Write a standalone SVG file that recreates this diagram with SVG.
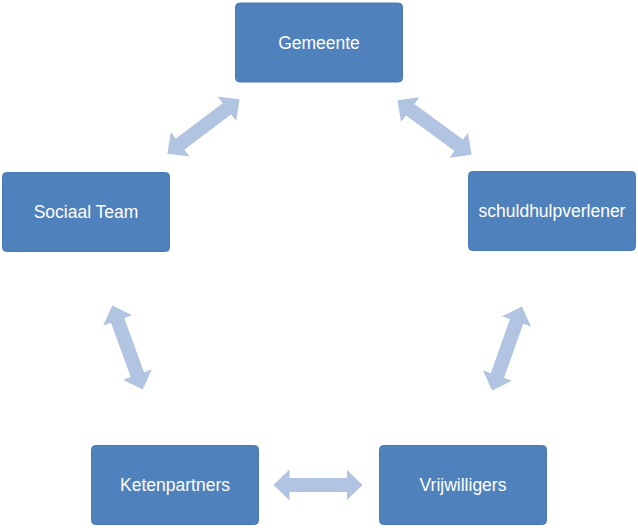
<svg xmlns="http://www.w3.org/2000/svg" width="638" height="528" viewBox="0 0 638 528">
<style>
.box{fill:#4F81BD;stroke:#4A7AB5;stroke-width:1}
.lbl{fill:#FFFFFF;font-family:"Liberation Sans",Arial,sans-serif;font-size:17.5px;text-anchor:middle}
.arr{stroke:#B1C4E2;stroke-width:14;fill:none;marker-start:url(#ah);marker-end:url(#ah)}
</style>
<defs>
<marker id="ah" markerUnits="userSpaceOnUse" markerWidth="20" markerHeight="34" viewBox="0 -17 20 34" refX="0.5" refY="0" orient="auto-start-reverse">
<path d="M0,-15.5 L16,0 L0,15.5 Z" fill="#B1C4E2"/>
</marker>
</defs>
<rect width="638" height="528" fill="#FFFFFF"/>
<g id="connectors">
<line class="arr" x1="179.8" y1="144.4" x2="227.2" y2="108.6"/>
<line class="arr" x1="409.9" y1="109.5" x2="459.1" y2="145.5"/>
<line class="arr" x1="289" y1="485" x2="347" y2="485"/>
<line class="arr" x1="117.5" y1="320" x2="137.5" y2="375"/>
<line class="arr" x1="516.7" y1="321.1" x2="497.3" y2="375.9"/>
</g>
<g id="gemeente"><rect class="box" x="235.5" y="3" width="167" height="79" rx="4"/><text class="lbl" x="319" y="48.5">Gemeente</text></g>
<g id="sociaal-team"><rect class="box" x="2.5" y="172.5" width="167" height="79" rx="4"/><text class="lbl" x="86" y="218">Sociaal Team</text></g>
<g id="schuldhulpverlener"><rect class="box" x="468.5" y="171.5" width="167" height="79" rx="4"/><text class="lbl" x="552" y="217">schuldhulpverlener</text></g>
<g id="ketenpartners"><rect class="box" x="91.5" y="445.5" width="167" height="79" rx="4"/><text class="lbl" x="175" y="491">Ketenpartners</text></g>
<g id="vrijwilligers"><rect class="box" x="379.5" y="445.5" width="167" height="79" rx="4"/><text class="lbl" x="463" y="491">Vrijwilligers</text></g>
</svg>
